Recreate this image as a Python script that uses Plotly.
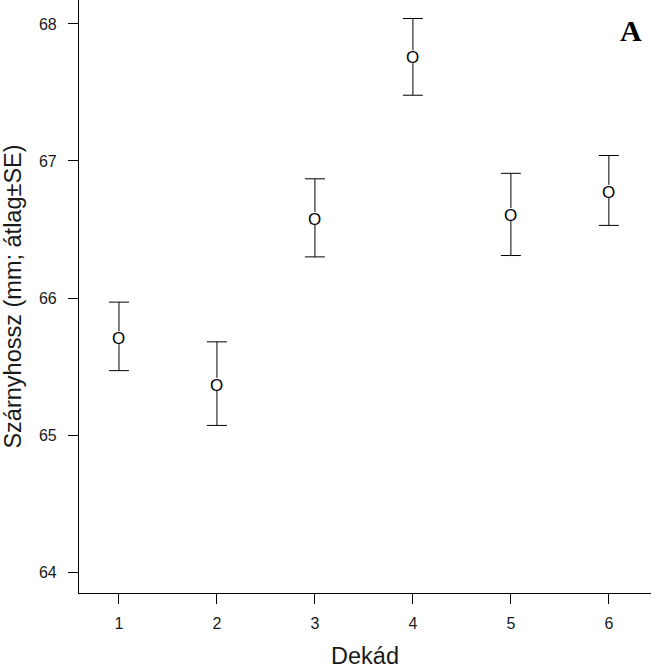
import plotly.graph_objects as go

dekad = [1, 2, 3, 4, 5, 6]
mean = [65.71, 65.37, 66.58, 67.76, 66.61, 66.78]
upper = [65.97, 65.68, 66.87, 68.04, 66.91, 67.04]
lower = [65.47, 65.07, 66.30, 67.48, 66.31, 66.53]
y_ticks = [64, 65, 66, 67, 68]

err_plus = [u - m for u, m in zip(upper, mean)]
err_minus = [m - l for m, l in zip(mean, lower)]

fig = go.Figure()
fig.add_trace(go.Scatter(
    x=dekad, y=mean, mode="markers",
    marker=dict(symbol="circle", size=13, color="white", line=dict(width=0)),
    error_y=dict(type="data", symmetric=False, array=err_plus, arrayminus=err_minus,
                 color="black", thickness=1, width=10),
    showlegend=False, hoverinfo="skip",
))
for xv, yv in zip(dekad, mean):
    fig.add_annotation(
        x=xv, y=yv, xref="x", yref="y", text="O", showarrow=False,
        xanchor="center", yanchor="middle", yshift=-1,
        font=dict(family="Liberation Sans, Arial", size=17, color="black"),
    )

fig.add_annotation(
    x=0.988, y=0.948, xref="paper", yref="paper", xanchor="right", yanchor="middle",
    text="<b>A</b>", showarrow=False,
    font=dict(family="Liberation Serif, Times New Roman", size=30, color="black"),
)

axis_common = dict(
    showline=True, linecolor="black", linewidth=1.2, mirror=False,
    showgrid=False, zeroline=False, ticks="outside", ticklen=10, tickwidth=1.2,
    tickcolor="black",
    tickfont=dict(family="Liberation Sans, Arial", size=16, color="#1a1a1a"),
    title_font=dict(family="Liberation Sans, Arial", size=23.5, color="#1a1a1a"),
)

fig.update_layout(
    width=672, height=672,
    margin=dict(l=79, r=21, t=0, b=79),
    paper_bgcolor="white", plot_bgcolor="white",
    xaxis=dict(range=[0.592, 6.43], tickvals=dekad, title_text="Dekád",
               title_standoff=16, ticklabelstandoff=6, **axis_common),
    yaxis=dict(range=[63.847, 68.175], tickvals=y_ticks,
               title_text="Szárnyhossz (mm; átlag±SE)", title_standoff=12,
               ticklabelstandoff=8, **axis_common),
)

fig.write_html("out.html", config={"displayModeBar": False},
               post_script="document.body.style.margin='0';")
